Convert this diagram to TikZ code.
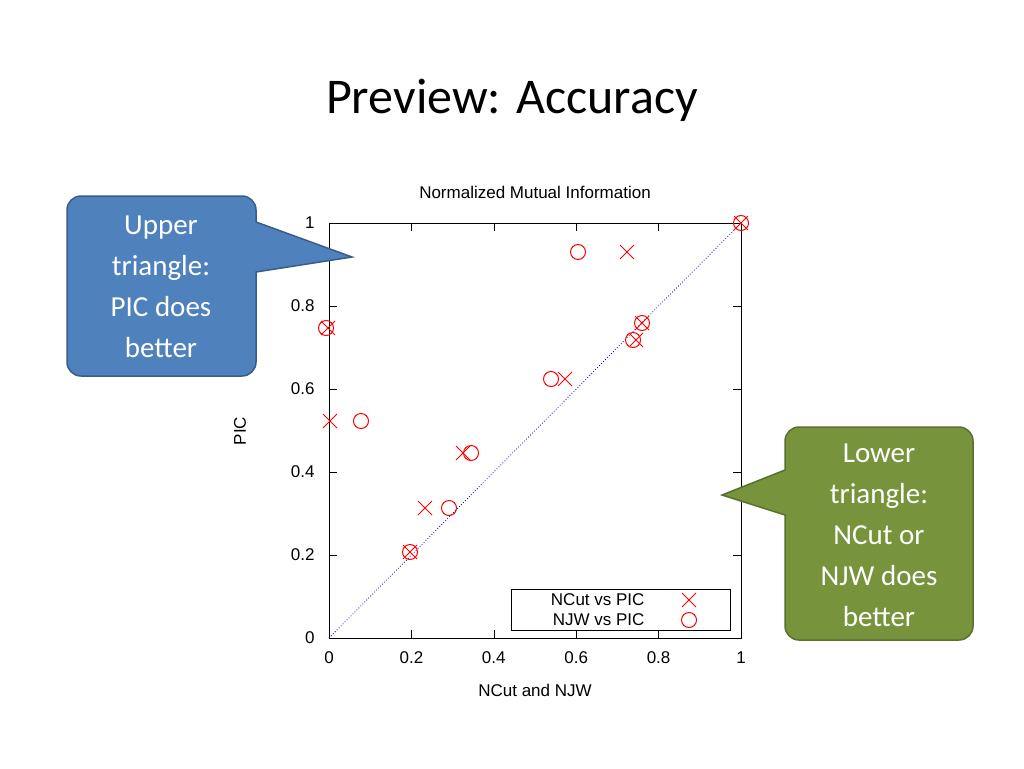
\documentclass[tikz,border=0pt]{standalone}
\usepackage{fontspec}
\setmainfont{Carlito}
\newfontfamily\plotfont{Liberation Sans}
\usetikzlibrary{shapes.misc}
\definecolor{bluefill}{HTML}{4F81BD}
\definecolor{blueedge}{HTML}{385D8A}
\definecolor{greenfill}{HTML}{77933C}
\definecolor{greenedge}{HTML}{5A7030}
\begin{document}
\begin{tikzpicture}[x=1pt,y=-1pt,
 lbl/.style={font=\plotfont\fontsize{17}{20}\selectfont},
 xm/.style={cross out,draw=red,minimum size=13pt,inner sep=0pt,line width=1pt},
 om/.style={circle,draw=red,minimum size=15pt,inner sep=0pt,line width=1pt},
 callout/.style={line width=1.5pt},
 ctext/.style={text=white,font=\fontsize{29}{41}\selectfont,align=center}]
\useasboundingbox[fill=white] (0,0) rectangle (1024,768);
\node (title) at (512,100) {\fontsize{50}{60}\selectfont Preview: Accuracy};
% axes
\draw[line width=0.8pt] (329,223) rectangle (741,638);
\foreach \v/\t in {0/0,0.2/0.2,0.4/0.4,0.6/0.6,0.8/0.8,1/1}{
 \pgfmathsetmacro\px{329+412*\v}
 \pgfmathsetmacro\py{638-415*\v}
 \draw (\px,638)--(\px,630) (\px,223)--(\px,231);
 \draw (329,\py)--(337,\py) (741,\py)--(733,\py);
 \node[lbl,anchor=north] at (\px,648) {\t};
 \node[lbl,anchor=east] at (318,\py) {\t};
}
\node[lbl] (ptitle) at (535,192) {Normalized Mutual Information};
\node[lbl] (xlab) at (535,690) {NCut and NJW};
\node[lbl,rotate=90] (ylab) at (240,431) {PIC};
\coordinate (o) at (329,638); \coordinate (e) at (741,223);
\draw[blue!70!black,dotted,line width=0.8pt] (o)--(e);
% legend
\draw[fill=white,line width=0.6pt] (511,589) rectangle (730,630);
\node[lbl,anchor=east] at (648,600) {NCut vs PIC};
\node[lbl,anchor=east] at (648,620) {NJW vs PIC};
\node[xm] (lx) at (689,600) {};
\node[om] (lo) at (689,620) {};
% points
\foreach \x/\y [count=\i] in {328/328,330/421,425/508,463/453,410/552,565/379,636/340,642/323,627/252,741/223}
 \node[xm] (x\i) at (\x,\y) {};
\foreach \x/\y [count=\i] in {326/328,361/421,449/508,471/453,410/552,551/379,633/340,642/323,578/252,741/223}
 \node[om] (c\i) at (\x,\y) {};
% callouts
\draw[callout,fill=bluefill,draw=blueedge,rounded corners=14] (256,272)--(256,376)--(67,376)--(67,196)--(256,196)[sharp corners]--(256,222)--(352,257)--cycle;
\node[ctext] (up) at (161,287) {Upper\\triangle:\\PIC does\\better};
\draw[callout,fill=greenfill,draw=greenedge,rounded corners=14] (785,470)--(785,427)--(973,427)--(973,640)--(785,640)[sharp corners]--(785,515)--(722,495)--cycle;
\node[ctext] (low) at (879,535) {Lower\\triangle:\\NCut or\\NJW does\\better};
\end{tikzpicture}
\end{document}
